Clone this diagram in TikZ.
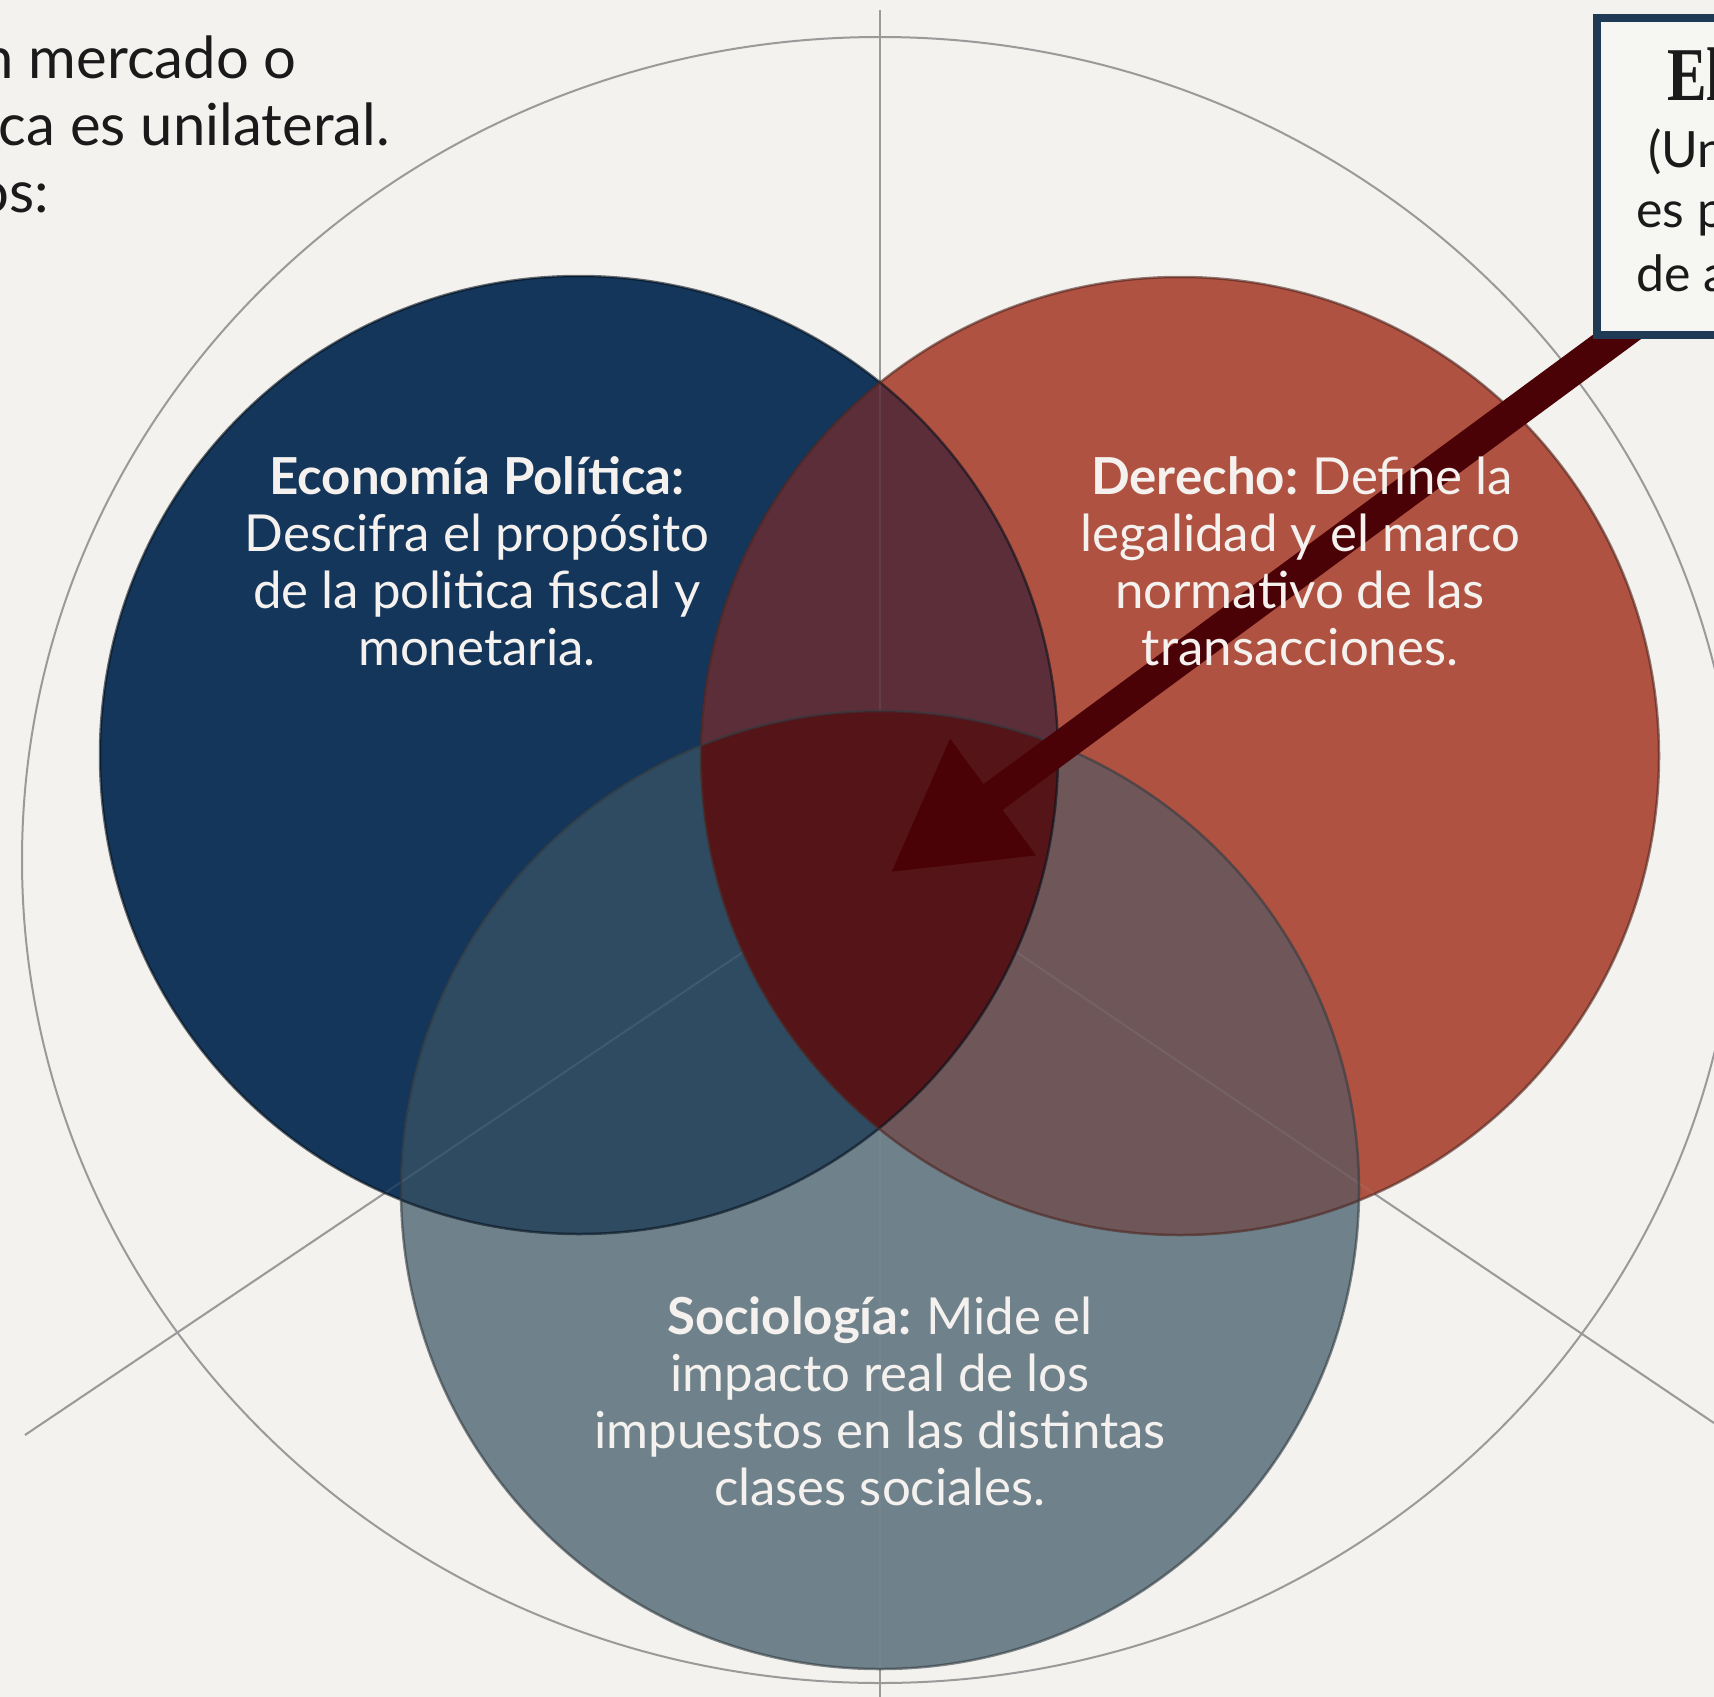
\documentclass[tikz,border=0pt]{standalone}
\usepackage{fontspec}
\usepackage{graphicx}
\setmainfont{Lato}
\newfontfamily\titleserif{Liberation Serif}
\usetikzlibrary{arrows.meta}
\definecolor{bg}{HTML}{F3F2EE}
\definecolor{cblue}{HTML}{14365A}
\definecolor{cred}{HTML}{B05242}
\definecolor{cgray}{HTML}{6F828C}
\definecolor{cbr}{HTML}{5B2E39}
\definecolor{cbg}{HTML}{2E4B62}
\definecolor{crg}{HTML}{6E5659}
\definecolor{ctri}{HTML}{551418}
\definecolor{carrow}{HTML}{4A0206}
\definecolor{gline}{HTML}{9A9A9A}
\definecolor{navy}{HTML}{1E3A55}
\definecolor{boxfill}{HTML}{F6F6F3}
\definecolor{ink}{HTML}{1A1A1A}
\definecolor{wtxt}{HTML}{F4F1EE}
\tikzset{
  guide/.style={draw=gline, line width=2pt},
  ctxt/.style={text=wtxt, inner sep=0pt, anchor=base, font=\fontsize{51}{57}\selectfont},
  ltxt/.style={text=ink, inner sep=0pt, anchor=base east, font=\fontsize{58}{67}\selectfont},
  btxt/.style={text=ink, inner sep=0pt, anchor=base west, font=\fontsize{50}{60}\selectfont},
  edge/.style={line width=2.5pt, opacity=0.6}
}
\begin{document}
\begin{tikzpicture}[x=1pt,y=-1pt]
\useasboundingbox (0,0) rectangle (1714,1697);
\fill[bg] (0,0) rectangle (1714,1697);
\clip (0,0) rectangle (1714,1697);
\coordinate (cO) at (880,860);
\coordinate (cB) at (579,755);
\coordinate (cR) at (1180,756);
\coordinate (cS) at (880,1190);
\coordinate (vtop) at (880,10);
\coordinate (vbot) at (880,1697);
\coordinate (lend) at (25,1435);
\coordinate (rend) at (1714,1423);
% background guide circle and lines
\draw[guide] (cO) ellipse [x radius=858pt, y radius=823pt];
\draw[guide] (vtop) -- (vbot);
\draw[guide] (cO) -- (lend);
\draw[guide] (cO) -- (rend);
% circles
\fill[cblue] (cB) circle (479pt);
\fill[cred] (cR) circle (479pt);
\fill[cgray] (cS) circle (479pt);
\begin{scope}
  \clip (cB) circle (479pt);
  \fill[cbr] (cR) circle (479pt);
  \fill[cbg] (cS) circle (479pt);
\end{scope}
\begin{scope}
  \clip (cR) circle (479pt);
  \fill[crg] (cS) circle (479pt);
\end{scope}
% faint guides over circles
\draw[guide, opacity=0.15] (vtop) -- (vbot);
\draw[guide, opacity=0.18] (cO) -- (lend);
\draw[guide, opacity=0.18] (cO) -- (rend);
\begin{scope}
  \clip (cB) circle (479pt);
  \clip (cR) circle (479pt);
  \fill[ctri] (cS) circle (479pt);
\end{scope}
% outlines
\draw[edge, draw=black!70!cblue] (cB) circle (479pt);
\draw[edge, draw=black!55!cred] (cR) circle (479pt);
\draw[edge, draw=black!55!cgray] (cS) circle (479pt);
% arrow
\coordinate (astart) at (1667,300);
\coordinate (atip) at (890,873);
\draw[carrow, line width=32pt, -{Triangle[length=128pt, width=135pt]}] (astart) -- (atip);
% box
\node (box) [draw=navy, line width=8pt, fill=boxfill, anchor=north west,
  minimum width=400pt, minimum height=317pt, inner sep=0pt] at (1593,14) {};
\node (bt) [text=ink, inner sep=0pt, anchor=base west] at (1667,100)
  {\scalebox{0.78}[1]{\fontsize{76}{80}\titleserif\bfseries El}};
\node (b1) [btxt] at (1648,167) {(Un};
\node (b2) [btxt] at (1636,227) {es p};
\node (b3) [btxt] at (1636,291) {de a};
% top-left text
\node (l1) [ltxt] at (297,78) {n mercado o};
\node (l2) [ltxt] at (390,145) {nca es unilateral.};
\node (l3) [ltxt] at (49,212) {os:};
% circle texts
\node (e1) [ctxt] at (477,494) {\textbf{Economía Política:}};
\node (e2) [ctxt] at (477,551) {Descifra el propósito};
\node (e3) [ctxt] at (477,608) {de la politica fiscal y};
\node (e4) [ctxt] at (477,665) {monetaria.};
\node (d1) [ctxt] at (1302,494) {\textbf{Derecho:}\hspace{-3pt} Define la};
\node (d2) [ctxt] at (1300,551) {legalidad y el marco};
\node (d3) [ctxt] at (1300,608) {normativo de las};
\node (d4) [ctxt] at (1300,665) {transacciones.};
\node (s1) [ctxt] at (880,1334) {\textbf{Sociología:}\hspace{-3pt} Mide el};
\node (s2) [ctxt] at (880,1391) {impacto real de los};
\node (s3) [ctxt] at (880,1448) {impuestos en las distintas};
\node (s4) [ctxt] at (880,1505) {clases sociales.};
\end{tikzpicture}
\end{document}
